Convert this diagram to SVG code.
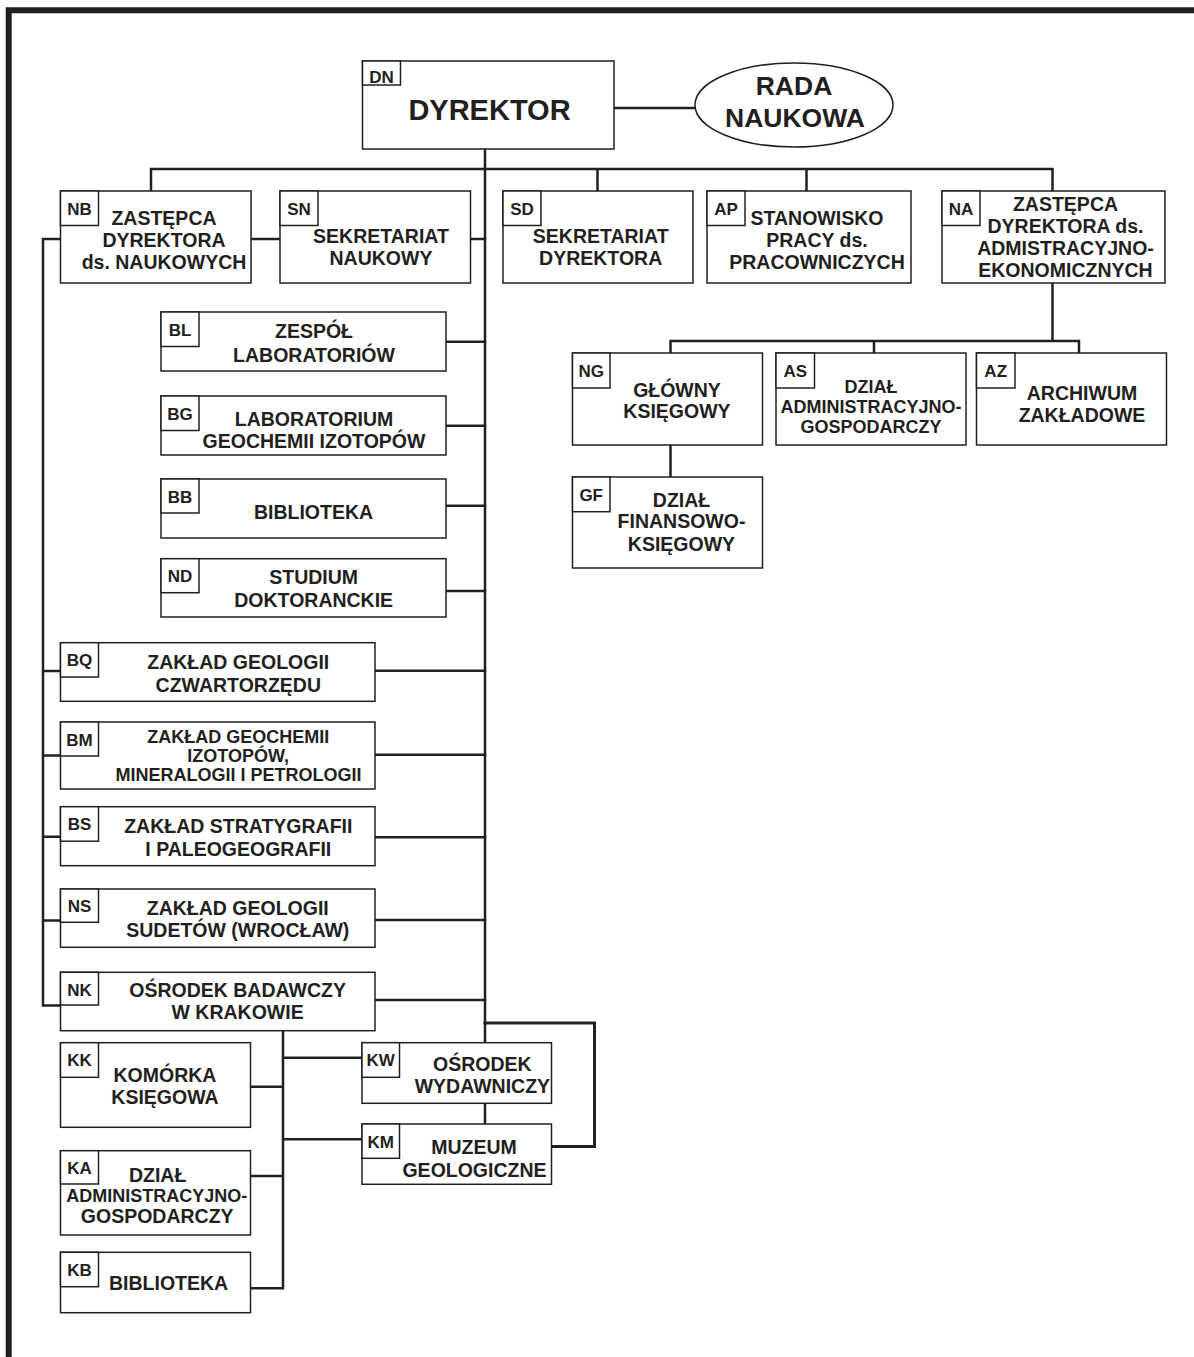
<svg xmlns="http://www.w3.org/2000/svg" width="1194" height="1357" viewBox="0 0 1194 1357">
<style>
.bg{fill:#fff}
.frame{fill:none;stroke:#231f20;stroke-width:6}
.c{fill:none;stroke:#231f20;stroke-width:2.5;stroke-linecap:square}
.box{fill:#fff;stroke:#231f20;stroke-width:1.5}
.lab{fill:#fff;stroke:#231f20;stroke-width:1.5}
text{font-family:"Liberation Sans",Arial,Helvetica,sans-serif;font-weight:bold;fill:#231f20}
.t{font-size:19.5px;text-anchor:middle}
.s{font-size:18px;text-anchor:middle}
.code{font-size:17px;text-anchor:middle}
</style>
<rect class="bg" x="0" y="0" width="1194" height="1357"/>
<path class="frame" d="M8.7 1357 V10.3 H1194"/>

<g id="connectors">
  <path class="c" d="M614 108 H695"/>
  <path class="c" d="M485 149 V1043 M485 1103 V1124"/>
  <path class="c" d="M151 191 V169 H1052.5 V191 M597.5 169 V191 M806.5 169 V191"/>
  <path class="c" d="M251 239 H280 M470.5 239 H485"/>
  <path class="c" d="M60 239 H43 V1005.5 H60 M43 671 H60 M43 755.5 H60 M43 836.7 H60 M43 920.5 H60"/>
  <path class="c" d="M446 341.7 H485 M446 425.7 H485 M446 505.7 H485 M446 591 H485"/>
  <path class="c" d="M375 670.7 H485 M375 754.7 H485 M375 837.3 H485 M375 920 H485 M375 1000 H485"/>
  <path class="c" style="stroke-width:3" d="M485 1023 H594.5 V1146.5 H551.5"/>
  <path class="c" d="M283 1031 V1288.3 H250.5 M250.5 1086.7 H283 M283 1057.7 H362 M250.5 1176 H283 M283 1139.3 H362"/>
  <path class="c" d="M1052.5 283 V341 M670.5 353 V341 H1079 V353 M874 341 V353 M670.5 445 V477"/>
</g>

<g id="node-DN">
  <rect class="box" x="362.5" y="61" width="251.5" height="88"/>
  <rect class="lab" x="362.5" y="61" width="38" height="24"/>
  <text class="code" x="381.5" y="83">DN</text>
  <text style="font-size:29px;text-anchor:middle" x="489.5" y="120">DYREKTOR</text>
</g>
<g id="node-RADA">
  <ellipse class="box" cx="794" cy="105" rx="99" ry="42"/>
  <text style="font-size:26.5px;text-anchor:middle" x="794" y="95">RADA</text>
  <text style="font-size:26.5px;text-anchor:middle" x="795" y="127">NAUKOWA</text>
</g>
<g id="node-NB">
  <rect class="box" x="60.5" y="191" width="190.5" height="92"/>
  <rect class="lab" x="60.5" y="191" width="38" height="34.5"/>
  <text class="code" x="79.5" y="214.5">NB</text>
  <text class="t" x="164" y="225">ZASTĘPCA</text>
  <text class="t" x="164" y="247">DYREKTORA</text>
  <text class="t" x="164" y="269">ds. NAUKOWYCH</text>
</g>
<g id="node-SN">
  <rect class="box" x="280" y="191" width="190.5" height="92"/>
  <rect class="lab" x="280" y="191" width="38" height="34.5"/>
  <text class="code" x="299" y="214.5">SN</text>
  <text class="t" x="381" y="243">SEKRETARIAT</text>
  <text class="t" x="381" y="265">NAUKOWY</text>
</g>
<g id="node-SD">
  <rect class="box" x="503" y="191" width="190" height="92"/>
  <rect class="lab" x="503" y="191" width="38" height="34.5"/>
  <text class="code" x="522" y="214.5">SD</text>
  <text class="t" x="600.7" y="243">SEKRETARIAT</text>
  <text class="t" x="600.7" y="265">DYREKTORA</text>
</g>
<g id="node-AP">
  <rect class="box" x="707" y="191" width="204" height="92"/>
  <rect class="lab" x="707" y="191" width="38" height="34.5"/>
  <text class="code" x="726" y="214.5">AP</text>
  <text class="t" x="817" y="225">STANOWISKO</text>
  <text class="t" x="817" y="247">PRACY ds.</text>
  <text class="t" x="817" y="269">PRACOWNICZYCH</text>
</g>
<g id="node-NA">
  <rect class="box" x="942" y="191" width="223" height="92"/>
  <rect class="lab" x="942" y="191" width="38" height="34.5"/>
  <text class="code" x="961" y="214.5">NA</text>
  <text class="t" x="1065.5" y="210.7">ZASTĘPCA</text>
  <text class="t" x="1065.5" y="233">DYREKTORA ds.</text>
  <text class="t" x="1065.5" y="255">ADMISTRACYJNO-</text>
  <text class="t" x="1065.5" y="277">EKONOMICZNYCH</text>
</g>
<g id="node-BL">
  <rect class="box" x="161" y="312" width="285" height="59"/>
  <rect class="lab" x="161" y="312" width="38" height="34.5"/>
  <text class="code" x="180" y="335.5">BL</text>
  <text class="t" x="314" y="338">ZESPÓŁ</text>
  <text class="t" x="314" y="362">LABORATORIÓW</text>
</g>
<g id="node-BG">
  <rect class="box" x="161" y="396" width="285" height="59"/>
  <rect class="lab" x="161" y="396" width="38" height="34.5"/>
  <text class="code" x="180" y="419.5">BG</text>
  <text class="t" x="314" y="425.7">LABORATORIUM</text>
  <text class="t" x="314" y="447.5">GEOCHEMII IZOTOPÓW</text>
</g>
<g id="node-BB">
  <rect class="box" x="161" y="479" width="285" height="59"/>
  <rect class="lab" x="161" y="479" width="38" height="34"/>
  <text class="code" x="180" y="502.5">BB</text>
  <text class="t" x="313.5" y="519.3">BIBLIOTEKA</text>
</g>
<g id="node-ND">
  <rect class="box" x="161" y="558.7" width="285" height="58.3"/>
  <rect class="lab" x="161" y="558.7" width="38" height="34"/>
  <text class="code" x="180" y="582.2">ND</text>
  <text class="t" x="313.7" y="584">STUDIUM</text>
  <text class="t" x="313.7" y="606.7">DOKTORANCKIE</text>
</g>
<g id="node-BQ">
  <rect class="box" x="60.5" y="642.7" width="314.5" height="58.6"/>
  <rect class="lab" x="60.5" y="642.7" width="38" height="34.3"/>
  <text class="code" x="79.5" y="666">BQ</text>
  <text class="t" x="238.3" y="669.3">ZAKŁAD GEOLOGII</text>
  <text class="t" x="238.3" y="691.7">CZWARTORZĘDU</text>
</g>
<g id="node-BM">
  <rect class="box" x="60.5" y="722" width="314.5" height="67"/>
  <rect class="lab" x="60.5" y="722" width="38" height="34"/>
  <text class="code" x="79.5" y="745.5">BM</text>
  <text class="s" x="238.2" y="743.3">ZAKŁAD GEOCHEMII</text>
  <text class="s" x="238.2" y="761.7">IZOTOPÓW,</text>
  <text class="s" x="238.5" y="780.7">MINERALOGII I PETROLOGII</text>
</g>
<g id="node-BS">
  <rect class="box" x="60.5" y="806.7" width="314.5" height="59"/>
  <rect class="lab" x="60.5" y="806.7" width="38" height="34.5"/>
  <text class="code" x="79.5" y="830">BS</text>
  <text class="t" x="238.3" y="833.3">ZAKŁAD STRATYGRAFII</text>
  <text class="t" x="238.3" y="856">I PALEOGEOGRAFII</text>
</g>
<g id="node-NS">
  <rect class="box" x="60.5" y="889" width="314.5" height="58.3"/>
  <rect class="lab" x="60.5" y="889" width="38" height="33.3"/>
  <text class="code" x="79.5" y="912">NS</text>
  <text class="t" x="237.8" y="915">ZAKŁAD GEOLOGII</text>
  <text class="t" x="237.8" y="937.3">SUDETÓW (WROCŁAW)</text>
</g>
<g id="node-NK">
  <rect class="box" x="60.5" y="972.3" width="314.5" height="58.4"/>
  <rect class="lab" x="60.5" y="972.3" width="38" height="32.7"/>
  <text class="code" x="79.5" y="995.5">NK</text>
  <text class="t" x="237.6" y="996.7">OŚRODEK BADAWCZY</text>
  <text class="t" x="237.6" y="1019.3">W KRAKOWIE</text>
</g>
<g id="node-KK">
  <rect class="box" x="60.5" y="1042.7" width="190" height="84.6"/>
  <rect class="lab" x="60.5" y="1042.7" width="38" height="34.6"/>
  <text class="code" x="79.5" y="1066.2">KK</text>
  <text class="t" x="165" y="1081.7">KOMÓRKA</text>
  <text class="t" x="165" y="1104.3">KSIĘGOWA</text>
</g>
<g id="node-KA">
  <rect class="box" x="60.5" y="1150.7" width="190" height="84.3"/>
  <rect class="lab" x="60.5" y="1150.7" width="38" height="33.3"/>
  <text class="code" x="79.5" y="1174">KA</text>
  <text class="t" x="157.6" y="1181.7">DZIAŁ</text>
  <text class="s" x="156.8" y="1201.7">ADMINISTRACYJNO-</text>
  <text class="t" x="157.2" y="1223.3">GOSPODARCZY</text>
</g>
<g id="node-KB">
  <rect class="box" x="60.5" y="1252.3" width="190" height="60.4"/>
  <rect class="lab" x="60.5" y="1252.3" width="38" height="34.4"/>
  <text class="code" x="79.5" y="1275.8">KB</text>
  <text class="t" x="168.6" y="1290">BIBLIOTEKA</text>
</g>
<g id="node-KW">
  <rect class="box" x="362" y="1042.7" width="189.5" height="60.6"/>
  <rect class="lab" x="362" y="1042.7" width="37.5" height="34.6"/>
  <text class="code" x="380.7" y="1066.2">KW</text>
  <text class="t" x="482.4" y="1070.7">OŚRODEK</text>
  <text class="t" x="482.4" y="1092.7">WYDAWNICZY</text>
</g>
<g id="node-KM">
  <rect class="box" x="362" y="1124" width="189.5" height="60.3"/>
  <rect class="lab" x="362" y="1124" width="37.5" height="34.3"/>
  <text class="code" x="380.7" y="1147.5">KM</text>
  <text class="t" x="474" y="1154.3">MUZEUM</text>
  <text class="t" x="474.5" y="1176.7">GEOLOGICZNE</text>
</g>
<g id="node-NG">
  <rect class="box" x="572.5" y="353" width="190" height="92"/>
  <rect class="lab" x="572.5" y="353" width="37.5" height="35"/>
  <text class="code" x="591.2" y="376.5">NG</text>
  <text class="t" x="677" y="396.7">GŁÓWNY</text>
  <text class="t" x="677" y="418">KSIĘGOWY</text>
</g>
<g id="node-AS">
  <rect class="box" x="776" y="353" width="190" height="92"/>
  <rect class="lab" x="776" y="353" width="38.5" height="35"/>
  <text class="code" x="795.2" y="376.5">AS</text>
  <text class="s" x="871" y="393">DZIAŁ</text>
  <text class="s" x="871" y="413">ADMINISTRACYJNO-</text>
  <text class="s" x="871" y="433">GOSPODARCZY</text>
</g>
<g id="node-AZ">
  <rect class="box" x="976.5" y="353" width="190" height="92"/>
  <rect class="lab" x="976.5" y="353" width="38.5" height="35"/>
  <text class="code" x="995.7" y="376.5">AZ</text>
  <text class="t" x="1082" y="400">ARCHIWUM</text>
  <text class="t" x="1082" y="421.7">ZAKŁADOWE</text>
</g>
<g id="node-GF">
  <rect class="box" x="572.5" y="477" width="190" height="91"/>
  <rect class="lab" x="572.5" y="477" width="37.5" height="34.7"/>
  <text class="code" x="591.2" y="500.5">GF</text>
  <text class="t" x="681.5" y="506.7">DZIAŁ</text>
  <text class="t" x="681.5" y="528">FINANSOWO-</text>
  <text class="t" x="681.5" y="550.7">KSIĘGOWY</text>
</g>
</svg>
